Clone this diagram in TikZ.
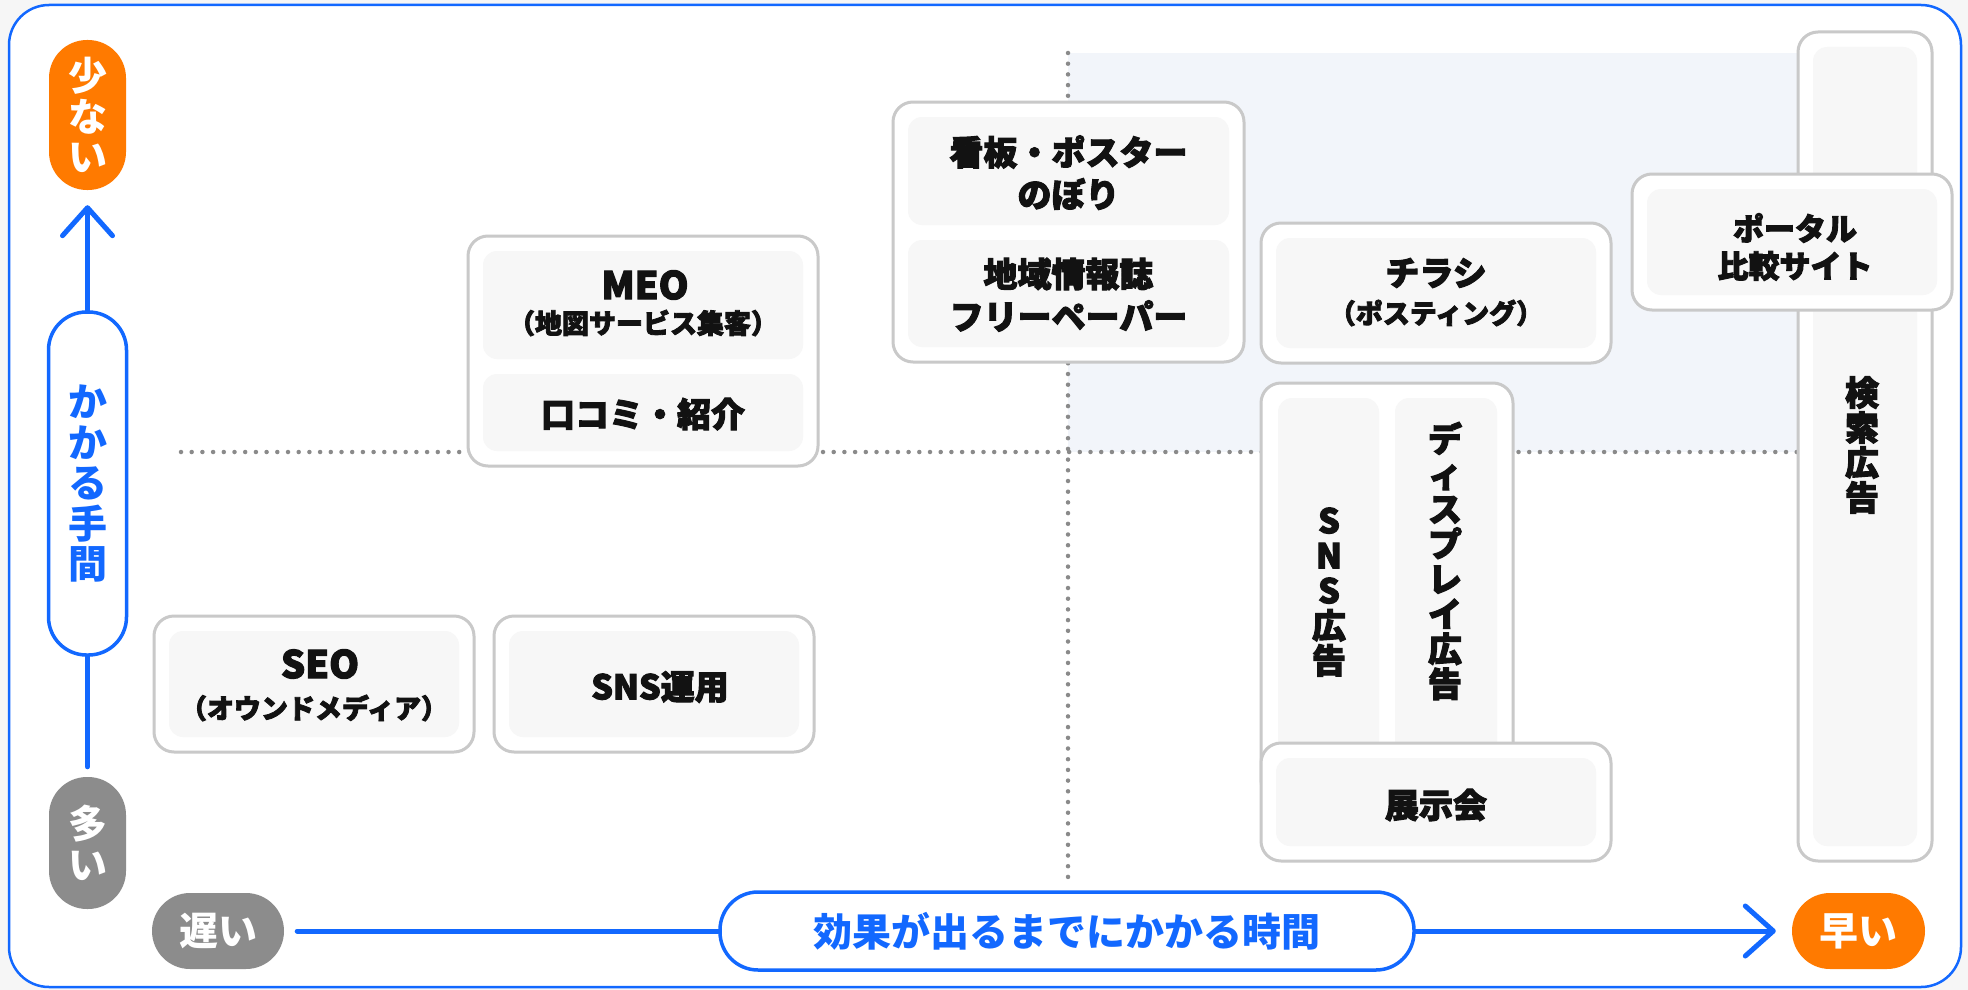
\documentclass[tikz,border=0pt]{standalone}
\usepackage{fontspec}
\setmainfont{Noto Sans CJK JP}
\newfontfamily\heavy{Noto Sans CJK JP}[BoldFeatures={FakeBold=3}]
\usetikzlibrary{arrows.meta}
\definecolor{bluec}{HTML}{1268FF}
\definecolor{orangec}{HTML}{FF7A00}
\definecolor{grayc}{HTML}{8C8C8C}
\definecolor{bordc}{HTML}{C9C9C9}
\definecolor{innerc}{HTML}{F7F7F7}
\definecolor{quadc}{HTML}{F2F5FA}
\definecolor{dotc}{HTML}{8A8A8A}
\definecolor{bgc}{HTML}{F6F6F6}
\definecolor{txtc}{HTML}{121212}
\begin{document}
\begin{tikzpicture}[x=1pt,y=-1pt,
  outerbox/.style={draw=bordc, line width=3pt, fill=white, rounded corners=20pt, inner sep=0pt},
  innerbox/.style={fill=innerc, rounded corners=14pt, inner sep=0pt},
  lbl/.style={text=txtc, font=\heavy\bfseries\fontsize{34}{35}\selectfont, inner sep=0pt, align=center},
  latinlbl/.style={text=txtc, font=\heavy\bfseries\fontsize{38}{39}\selectfont, inner sep=0pt},
  sublbl/.style={text=txtc, font=\heavy\bfseries\fontsize{27}{28}\selectfont, inner sep=0pt},
  portallbl/.style={text=txtc, font=\heavy\bfseries\fontsize{31}{32}\selectfont, inner sep=0pt},
  vlbl/.style={text=txtc, font=\heavy\bfseries\fontsize{34}{35}\selectfont, inner sep=0pt, align=center},
  pill/.style={inner sep=0pt, align=center, font=\fontsize{39}{40.5}\selectfont\bfseries},
  dotline/.style={dotc, line width=4.5pt, line cap=round, dash pattern=on 0pt off 10.7pt},
  axisline/.style={bluec, line width=5pt, line cap=round},
  chev/.style={-{Straight Barb[length=28pt,width=50pt,round]}},
]
\useasboundingbox (0,0) rectangle (1968,990);
\fill[bgc] (0,0) rectangle (1968,990);
\draw[bluec, line width=2.5pt, fill=white, rounded corners=40pt] (9,5) rectangle (1961,987);

% quadrant highlight and grid lines
\fill[quadc] (1068,53) rectangle (1820,452);
\coordinate (vtop) at (1068,53);
\coordinate (vbot) at (1068,879);
\coordinate (hleft) at (181,452);
\coordinate (hright) at (1800,452);
\draw[dotline] (vtop) -- (vbot);
\draw[dotline] (hleft) -- (hright);

% axis pills
\node[pill, fill=orangec, text=white, minimum width=77pt, minimum height=150pt, rounded corners=38pt] (few) at (87.5,115) {少\\な\\い};
\node[pill, draw=bluec, line width=3.5pt, fill=white, text=bluec, minimum width=78pt, minimum height=343pt, rounded corners=38pt] (ymid) at (87.5,483.5) {か\\か\\る\\手\\間};
\node[pill, fill=grayc, text=white, minimum width=77pt, minimum height=132pt, rounded corners=38pt] (many) at (87.5,843) {多\\い};
\node[pill, fill=grayc, text=white, minimum width=132pt, minimum height=76pt, rounded corners=38pt] (slow) at (218,931) {遅い};
\node[pill, draw=bluec, line width=3.5pt, fill=white, text=bluec, minimum width=694pt, minimum height=78pt, rounded corners=38pt] (xmid) at (1067,931) {効果が出るまでにかかる時間};
\node[pill, fill=orangec, text=white, minimum width=133pt, minimum height=76pt, rounded corners=38pt] (fast) at (1858.5,931) {早い};

\draw[axisline, chev, shorten >=15pt] (ymid.north) -- (few.south);
\draw[axisline, shorten >=10pt] (ymid.south) -- (many.north);
\draw[axisline, shorten <=13pt] (slow.east) -- (xmid.west);
\draw[axisline, chev, shorten >=16pt] (xmid.east) -- (fast.west);

% MEO group
\node[outerbox, minimum width=350pt, minimum height=230pt] (meoout) at (643,351) {};
\node[innerbox, minimum width=320pt, minimum height=108pt] (meoin) at (643,305) {};
\node[innerbox, minimum width=320pt, minimum height=77pt] (kuchiin) at (643,412.5) {};
\node[latinlbl] (meo) at (645,285) {MEO};
\node[sublbl] (meosub) at (643,323) {（地図サービス集客）};
\node[lbl] (kuchi) at (643,414) {口コミ・紹介};

% signboard group
\node[outerbox, minimum width=351pt, minimum height=260pt] (signout) at (1068.5,232) {};
\node[innerbox, minimum width=321pt, minimum height=108pt] (signin) at (1068.5,171) {};
\node[innerbox, minimum width=321pt, minimum height=107pt] (freein) at (1068.5,293.5) {};
\node[lbl] (kanban) at (1068.5,152) {看板・ポスター};
\node[lbl] (nobori) at (1068.5,194) {のぼり};
\node[lbl] (chiiki) at (1068.5,274) {地域情報誌};
\node[lbl] (free) at (1068.5,316) {フリーペーパー};

% flyer
\node[outerbox, minimum width=350pt, minimum height=140pt] (flyout) at (1436,293) {};
\node[innerbox, minimum width=320pt, minimum height=110pt] (flyin) at (1436,293) {};
\node[lbl] (chirashi) at (1436,273) {チラシ};
\node[sublbl] (posting) at (1436,313) {（ポスティング）};

% search ads (tall), then portal on top
\node[outerbox, minimum width=134pt, minimum height=829pt] (searchout) at (1865,446.5) {};
\node[innerbox, minimum width=104pt, minimum height=799pt] (searchin) at (1865,446.5) {};
\node[vlbl] (kensaku) at (1862,445) {検\\索\\広\\告};
\node[outerbox, minimum width=320pt, minimum height=136pt] (portout) at (1792,242) {};
\node[innerbox, minimum width=290pt, minimum height=106pt] (portin) at (1792,242) {};
\node[portallbl] (portal) at (1795,228) {ポータル};
\node[portallbl] (hikaku) at (1795,266) {比較サイト};

% SNS ads / display ads group, then exhibition on top
\node[outerbox, minimum width=252pt, minimum height=417pt] (adout) at (1387,591.5) {};
\node[innerbox, minimum width=101pt, minimum height=392pt] (snsadin) at (1328.5,594) {};
\node[innerbox, minimum width=102pt, minimum height=392pt] (dispin) at (1446,594) {};
\node[vlbl] (snsad) at (1329,592) {S\\N\\S\\広\\告};
\node[vlbl] (disp) at (1445,561) {デ\\ィ\\ス\\プ\\レ\\イ\\広\\告};
\node[outerbox, minimum width=350pt, minimum height=118pt] (expoout) at (1436,802) {};
\node[innerbox, minimum width=320pt, minimum height=88pt] (expoin) at (1436,802) {};
\node[lbl] (tenji) at (1436,805) {展示会};

% SEO and SNS operation
\node[outerbox, minimum width=320pt, minimum height=136pt] (seoout) at (314,684) {};
\node[innerbox, minimum width=290pt, minimum height=106pt] (seoin) at (314,684) {};
\node[latinlbl] (seo) at (320,664) {SEO};
\node[sublbl] (owned) at (314,708) {（オウンドメディア）};
\node[outerbox, minimum width=320pt, minimum height=136pt] (snsout) at (654,684) {};
\node[innerbox, minimum width=290pt, minimum height=106pt] (snsin) at (654,684) {};
\node[lbl] (snsun) at (660,687) {SNS運用};
\end{tikzpicture}
\end{document}
